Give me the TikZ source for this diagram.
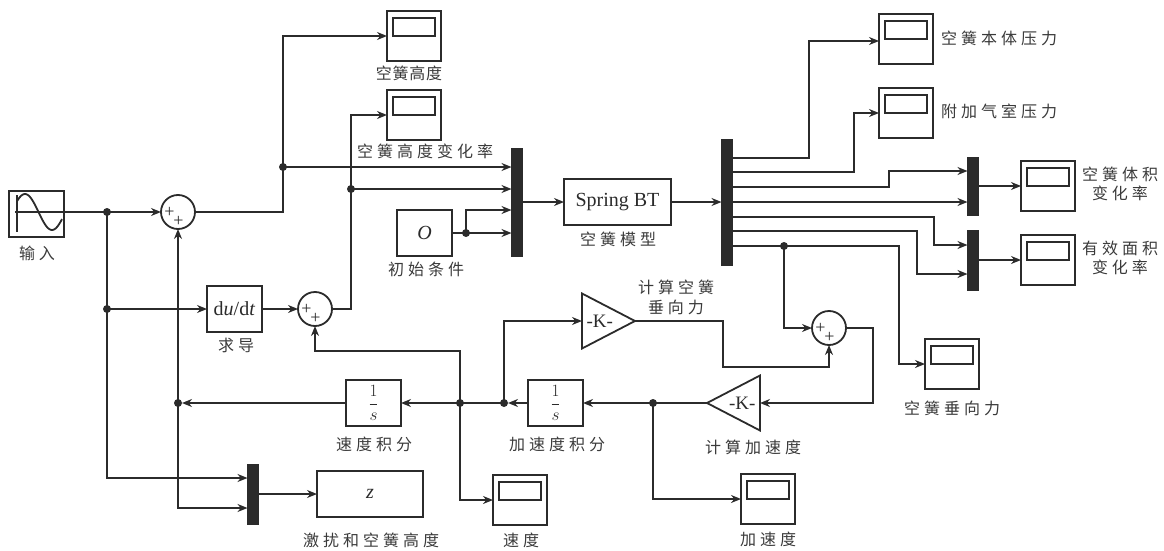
\documentclass[tikz,border=0pt]{standalone}
\usepackage{xcolor}
\usepackage{fontspec}
\setmainfont{Liberation Serif}
\newfontfamily\cjk[LetterSpace=25]{Noto Sans CJK SC}
\newfontfamily\cjknarrow[LetterSpace=5]{Noto Sans CJK SC}
\usepackage{tikz}
\usetikzlibrary{arrows.meta,shapes.geometric}
\definecolor{ink}{HTML}{2B2B2B}
\definecolor{labelgrey}{HTML}{3A3A3A}
\tikzset{
  % Simulink blocks
  blockbox/.style={draw=ink,line width=1.8pt,fill=white,minimum width=55pt,
                   minimum height=46pt,inner sep=0pt,outer sep=0pt,align=center,text=ink,
                   font=\fontsize{20}{22}\selectfont},
  fracbox/.style={blockbox,font=\fontsize{16}{18}\selectfont},
  scopebox/.style={blockbox,minimum width=54pt,minimum height=50pt,
    path picture={
      \draw[ink,line width=1.6pt] ([shift={(-21pt,18pt)}]path picture bounding box.center)
                 rectangle ([shift={(21pt,0pt)}]path picture bounding box.center);
    }},
  sumbox/.style={draw=ink,line width=1.8pt,fill=white,circle,minimum size=34pt,
                 inner sep=0pt,outer sep=0pt,
    path picture={
      \node[text=ink,inner sep=0pt,font=\fontsize{18}{18}\selectfont]
        at ([shift={(-8.5pt,0pt)}]path picture bounding box.center) {+};
      \node[text=ink,inner sep=0pt,font=\fontsize{18}{18}\selectfont]
        at ([shift={(0.5pt,-9.5pt)}]path picture bounding box.center) {+};
    }},
  gainbox/.style={draw=ink,line width=1.8pt,fill=white,isosceles triangle,
                  isosceles triangle stretches,minimum width=55pt,minimum height=53pt,
                  inner sep=0pt,outer sep=0pt,text=ink,font=\fontsize{19}{19}\selectfont},
  muxbar/.style={draw=ink,fill=ink,minimum width=11pt,inner sep=0pt,outer sep=0pt},
  dotnode/.style={circle,fill=ink,minimum size=8pt,inner sep=0pt,outer sep=0pt},
  % Connectors & labels
  fl/.style={-{Stealth[length=10pt,width=8pt]},ink,line width=1.8pt},
  wire/.style={ink,line width=1.8pt},
  lb/.style={font=\cjk\fontsize{16}{19}\selectfont,text=labelgrey,inner sep=0pt,align=center},
  lbn/.style={font=\cjknarrow\fontsize{16}{19}\selectfont,text=labelgrey,inner sep=0pt,align=center}
}

\begin{document}
\begin{tikzpicture}[x=1pt,y=-1pt]
  \useasboundingbox (0,0) rectangle (1164,551);

  % --- Blocks ---
  \node[blockbox] (inp) at (36.5,214) {};
  \node[sumbox] (suma) at (178,212) {};
  \node[blockbox] (dudt) at (234.5,309) {d\textit{u}/d\textit{t}};
  \node[sumbox] (sumb) at (315,309) {};
  \node[blockbox] (init) at (424.5,233) {\textit{O}};
  \node[blockbox,minimum width=107pt] (spring) at (617.5,202) {Spring BT};
  \node[fracbox] (intb) at (555.5,403) {\(\displaystyle\frac{1}{s}\)};
  \node[fracbox] (intc) at (373.5,403) {\(\displaystyle\frac{1}{s}\)};
  \node[blockbox,minimum width=106pt] (zout) at (370,494) {\textit{z}};
  \node[sumbox] (sumc) at (829,328) {};
  \node[gainbox,anchor=lower side] (gaina) at (582,321) {-K-};
  \node[gainbox,anchor=lower side,shape border rotate=180] (gainb) at (760,403) {-K-};

  \node[muxbar,minimum height=108pt] (muxa) at (517,202) {};
  \node[muxbar,minimum height=126pt] (demux) at (727,202) {};
  \node[muxbar,minimum height=58pt] (muxb) at (973,186) {};
  \node[muxbar,minimum height=60pt] (muxc) at (973,260) {};
  \node[muxbar,minimum height=60pt] (muxd) at (253,494) {};

  % --- Scopes ---
  \node[scopebox] (sca) at (414,36) {};
  \node[scopebox] (scb) at (414,115) {};
  \node[scopebox] (scc) at (906,39) {};
  \node[scopebox] (scd) at (906,113) {};
  \node[scopebox] (sce) at (1048,186) {};
  \node[scopebox] (scf) at (1048,260) {};
  \node[scopebox] (scg) at (952,364) {};
  \node[scopebox] (sch) at (520,500) {};
  \node[scopebox] (sci) at (768,499) {};

  % Sine icon of the input block
  \draw[wire,domain=17:62,samples=40,smooth] plot (\x,{212-18*sin((\x-11.5)*6.6667)});
  \draw[wire] (17,195) -- (17,232);

  % --- Junctions ---
  \node[dotnode] (ja) at (107,212) {};
  \node[dotnode] (jb) at (107,309) {};
  \node[dotnode] (jc) at (283,167) {};
  \node[dotnode] (jd) at (351,189) {};
  \node[dotnode] (je) at (466,233) {};
  \node[dotnode] (jf) at (178,403) {};
  \node[dotnode] (jg) at (460,403) {};
  \node[dotnode] (jh) at (504,403) {};
  \node[dotnode] (ji) at (653,403) {};
  \node[dotnode] (jj) at (784,246) {};

  % Demux output stubs
  \coordinate (oa) at (733,158);
  \coordinate (ob) at (733,172);
  \coordinate (oc) at (733,187);
  \coordinate (od) at (733,217);
  \coordinate (oe) at (733,231);

  % --- Input side ---
  \draw[wire] (15,212) -- (ja.center);
  \draw[fl] (ja.center) -- (suma.west);
  \draw[wire] (ja.center) -- (jb.center);
  \draw[fl] (jb.center) -- (dudt.west);
  \draw[fl] (jb.center) |- ([yshift=16pt]muxd.west);
  \draw[fl] (dudt.east) -- (sumb.west);

  % --- Forward pipeline to the spring model ---
  \draw[wire] (suma.east) -| (jc.center);
  \draw[fl] (jc.center) |- (sca.west);
  \draw[fl] (jc.center) -- (jc -| muxa.west);
  \draw[wire] (sumb.east) -| (jd.center);
  \draw[fl] (jd.center) |- (scb.west);
  \draw[fl] (jd.center) -- (jd -| muxa.west);
  \draw[wire] (init.east |- je) -- (je.center);
  \draw[fl] (je.center) -- (je -| muxa.west);
  \draw[fl] (je.center) |- (466,210) -- (muxa.west |- 0,210);
  \draw[fl] (muxa.east) -- (spring.west);
  \draw[fl] (spring.east) -- (demux.west);

  % --- Demux outputs ---
  \draw[fl] (oa) -| (809,41) -- (scc.west |- 0,41);
  \draw[fl] (ob) -| (854,113) -- (scd.west);
  \draw[fl] (oc) -| (889,171) -- (muxb.west |- 0,171);
  \draw[fl] (demux.east) -- (muxb.west |- demux.east);
  \draw[fl] (od) -| (934,245) -- (muxc.west |- 0,245);
  \draw[fl] (oe) -| (917,274) -- (muxc.west |- 0,274);
  \draw[wire] (demux.east |- jj) -- (jj.center);
  \draw[fl] (jj.center) -| (899,364) -- (scg.west);
  \draw[fl] (jj.center) |- (sumc.west);
  \draw[fl] (muxb.east) -- (sce.west);
  \draw[fl] (muxc.east) -- (scf.west);

  % --- Force feedback ---
  \draw[fl] (sumc.east) -| (873,403) -- (gainb.lower side);
  \draw[wire] (gainb.apex) -- (ji.center);
  \draw[fl] (ji.center) -- (intb.east);
  \draw[fl] (ji.center) |- (sci.west);
  \draw[fl] (intb.west) -- (jh);
  \draw[fl] (jh.center) |- (gaina.lower side);
  \draw[fl] (gaina.apex) -| (723,367) -| (sumc.south);
  \draw[wire] (jh.center) -- (jg.center);
  \draw[fl] (jg.center) -- (intc.east);
  \draw[fl] (jg.center) |- (460,351) -| (sumb.south);
  \draw[fl] (jg.center) |- (sch.west);
  \draw[fl] (intc.west) -- (jf);
  \draw[fl] (jf.center) -- (suma.south);
  \draw[fl] (jf.center) |- ([yshift=-14pt]muxd.west);
  \draw[fl] (muxd.east) -- (zout.west);

  % --- Labels ---
  \node[lb] (tinp) at (37,253) {输入};
  \node[lb] (tdudt) at (236,345) {求导};
  \node[lbn] (tsca) at (409,73) {空簧高度};
  \node[lb] (tscb) at (425,151) {空簧高度变化率};
  \node[lb] (tinit) at (426,269) {初始条件};
  \node[lb] (tspring) at (618,239) {空簧模型};
  \node[lb,anchor=west] (tscc) at (941,38) {空簧本体压力};
  \node[lb,anchor=west] (tscd) at (941,111) {附加气室压力};
  \node[lb] (tsce) at (1120,184) {空簧体积\\变化率};
  \node[lb] (tscf) at (1120,258) {有效面积\\变化率};
  \node[lb] (tgaina) at (676,297) {计算空簧\\[1pt]垂向力};
  \node[lb] (tscg) at (952,408) {空簧垂向力};
  \node[lb] (tintc) at (374,444) {速度积分};
  \node[lb] (tintb) at (557,444) {加速度积分};
  \node[lb] (tgainb) at (753,447) {计算加速度};
  \node[lb] (tzout) at (371,540) {激扰和空簧高度};
  \node[lb] (tsch) at (521,540) {速度};
  \node[lb] (tsci) at (768,539) {加速度};
\end{tikzpicture}
\end{document}
